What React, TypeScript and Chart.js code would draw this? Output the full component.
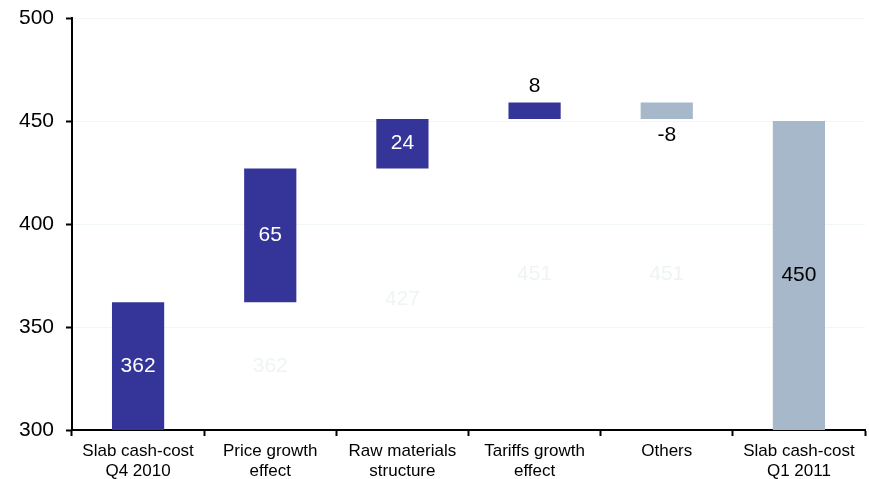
import React, { useEffect, useRef } from "react";
import { Chart, registerables } from "chart.js";

Chart.register(...registerables);

const categories: string[][] = [
  ["Slab cash-cost", "Q4 2010"],
  ["Price growth", "effect"],
  ["Raw materials", "structure"],
  ["Tariffs growth", "effect"],
  ["Others"],
  ["Slab cash-cost", "Q1 2011"],
];
const barStart = [300, 362, 427, 451, 451, 300];
const barEnd = [362, 427, 451, 459, 459, 450];
const barLabels = ["362", "65", "24", "8", "-8", "450"];
const hiddenBase: (number | null)[] = [null, 362, 427, 451, 451, null];
const yTicks = [300, 350, 400, 450, 500];

const DARK = "#343499";
const GREY = "#A6B8CA";
const barColors = [DARK, DARK, DARK, DARK, GREY, GREY];
const labelPos = ["inside", "inside", "inside", "above", "below", "inside"];
const labelColors = ["#FFFFFF", "#FFFFFF", "#FFFFFF", "#000000", "#000000", "#000000"];
const FONT = "Arial, 'Liberation Sans', sans-serif";

const labelPlugin = {
  id: "wfLabels",
  afterDatasetsDraw(chart: any) {
    const ctx = chart.ctx;
    const meta = chart.getDatasetMeta(0);
    const yScale = chart.scales.y;
    ctx.save();
    ctx.font = `21px ${FONT}`;
    ctx.textAlign = "center";
    ctx.textBaseline = "middle";
    hiddenBase.forEach((v, i) => {
      if (v == null) return;
      const el = meta.data[i];
      const py = yScale.getPixelForValue((yScale.min + v) / 2);
      ctx.fillStyle = "#EEF4F4";
      ctx.fillText(String(v), el.x, py);
    });
    meta.data.forEach((el: any, i: number) => {
      const top = Math.min(el.y, el.base);
      const bottom = Math.max(el.y, el.base);
      let py = (top + bottom) / 2;
      if (labelPos[i] === "above") py = top - 16;
      if (labelPos[i] === "below") py = bottom + 16;
      ctx.fillStyle = labelColors[i];
      ctx.fillText(barLabels[i], el.x, py);
    });
    ctx.restore();
  },
};

export default function App() {
  const ref = useRef<HTMLCanvasElement>(null);
  useEffect(() => {
    if (!ref.current) return;
    const chart = new Chart(ref.current, {
      type: "bar",
      data: {
        labels: categories,
        datasets: [
          {
            data: barStart.map((s, i) => [s, barEnd[i]]) as any,
            backgroundColor: barColors,
            borderWidth: 0,
            barPercentage: 0.395,
            categoryPercentage: 1,
          },
        ],
      },
      options: {
        animation: false,
        responsive: true,
        maintainAspectRatio: false,
        layout: { padding: { top: 18, right: 4, left: 0, bottom: 0 } },
        plugins: {
          legend: { display: false },
          tooltip: { enabled: false },
          title: { display: false },
        },
        scales: {
          x: {
            offset: true,
            grid: {
              display: true,
              offset: true,
              drawOnChartArea: false,
              drawTicks: true,
              tickLength: 6,
              tickColor: "#000",
              tickWidth: 2,
            },
            border: { display: true, color: "#000", width: 2 },
            ticks: {
              color: "#000",
              font: { family: FONT, size: 17, lineHeight: 1.18 },
              maxRotation: 0,
              autoSkip: false,
              padding: 5,
            },
            afterFit: (s: any) => {
              s.height = 49;
            },
          },
          y: {
            min: 300,
            max: 500,
            afterBuildTicks: (s: any) => {
              s.ticks = yTicks.map((v) => ({ value: v }));
            },
            grid: {
              color: "#F0F6F6",
              lineWidth: 1,
              drawTicks: true,
              tickLength: 6,
              tickColor: "#000",
              tickWidth: 2,
            },
            border: { display: true, color: "#000", width: 2 },
            ticks: {
              color: "#000",
              font: { family: FONT, size: 21 },
              padding: 12,
            },
            afterFit: (s: any) => {
              s.width = 72;
              s.paddingTop = 0;
              s.paddingBottom = 0;
            },
          },
        },
      },
      plugins: [labelPlugin],
    });
    return () => chart.destroy();
  }, []);
  return (
    <div style={{ position: "absolute", left: 0, top: 0, width: 869, height: 479 }}>
      <canvas ref={ref} />
    </div>
  );
}
